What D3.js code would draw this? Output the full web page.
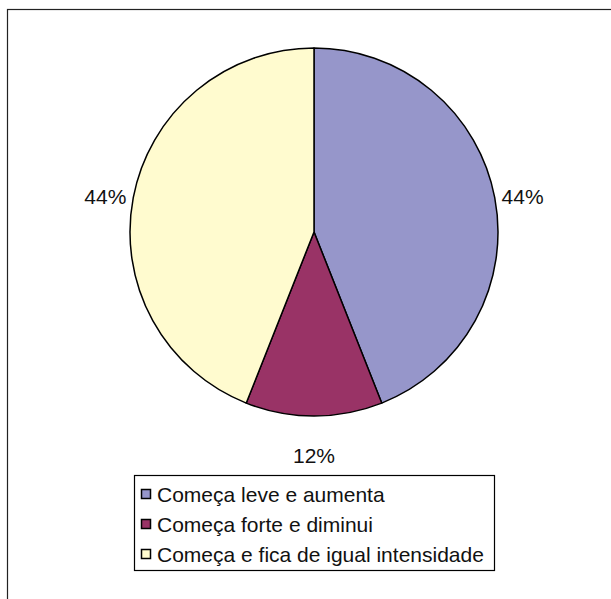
<!DOCTYPE html>
<html><head><meta charset="utf-8">
<script src="https://cdn.jsdelivr.net/npm/d3@7"></script>
<style>body{margin:0;background:#fff}svg{display:block}</style>
</head><body>
<svg id="c" width="611" height="599"></svg>
<script>
const categories = ["Começa leve e aumenta", "Começa forte e diminui", "Começa e fica de igual intensidade"];
const values = [44, 12, 44];
const labels = ["44%", "12%", "44%"];
const colors = ["#9696CA", "#993366", "#FFFBCF"];

const svg = d3.select("#c");
const font = "'Liberation Sans', Arial, sans-serif";
const fs = 21;

svg.append("rect").attr("x", 7.5).attr("y", 9.5).attr("width", 620).attr("height", 620)
  .attr("fill", "#fff").attr("stroke", "#222").attr("stroke-width", 1.2);

const cx = 314, cy = 232, r = 184;
const pie = d3.pie().sort(null).value(d => d)(values);
const arc = d3.arc().innerRadius(0).outerRadius(r);
const g = svg.append("g").attr("transform", `translate(${cx},${cy})`);
g.selectAll("path").data(pie).enter().append("path")
  .attr("d", arc).attr("fill", (d, i) => colors[i])
  .attr("stroke", "#000").attr("stroke-width", 1.5).attr("stroke-linejoin", "round");

g.selectAll("text").data(pie).enter().append("text")
  .each(function(d, i) {
    const a = (d.startAngle + d.endAngle) / 2;
    const sx = Math.sin(a), cy0 = -Math.cos(a);
    const t = d3.select(this);
    if (Math.abs(sx) < 0.4) {
      const rr = r + 38;
      t.attr("x", rr * sx).attr("y", rr * cy0 + 1).attr("text-anchor", "middle");
    } else {
      const rr = r + 7;
      t.attr("x", rr * sx).attr("y", rr * cy0).attr("text-anchor", sx > 0 ? "start" : "end");
    }
  })
  .attr("dominant-baseline", "central")
  .attr("font-family", font).attr("font-size", fs).attr("fill", "#111")
  .text((d, i) => labels[i]);

const lg = svg.append("g");
lg.append("rect").attr("x", 134.5).attr("y", 475.5).attr("width", 360).attr("height", 95)
  .attr("fill", "#fff").attr("stroke", "#000").attr("stroke-width", 1.2);
const rowY = d3.scalePoint().domain(categories).range([494, 554]);
categories.forEach((c, i) => {
  const y = rowY(c);
  lg.append("rect").attr("x", 141.5).attr("y", y - 4.5).attr("width", 9).attr("height", 9)
    .attr("fill", colors[i]).attr("stroke", "#000").attr("stroke-width", 1.5);
  lg.append("text").attr("x", 157).attr("y", y).attr("dominant-baseline", "central")
    .attr("font-family", font).attr("font-size", fs).attr("fill", "#111").text(c);
});
</script>
</body></html>
